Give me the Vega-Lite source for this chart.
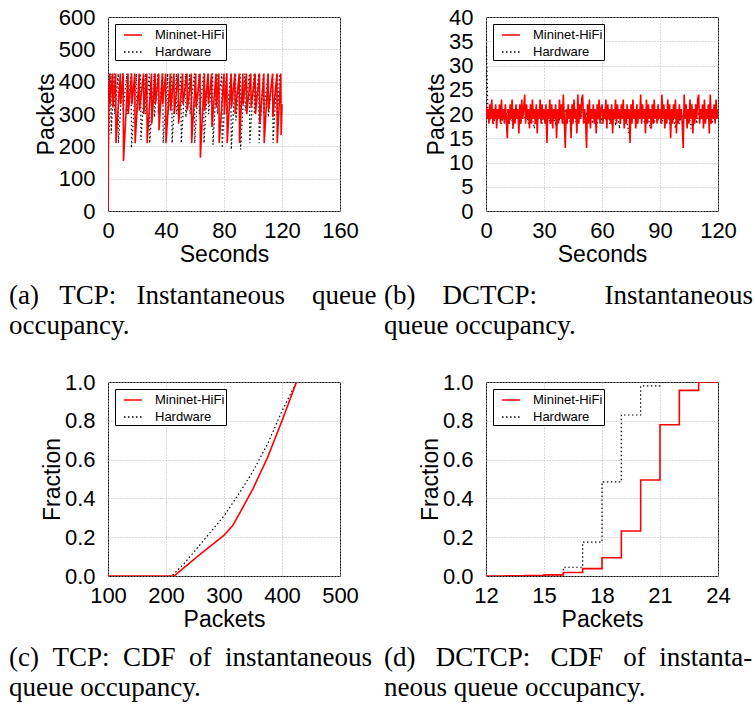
{
"$schema": "https://vega.github.io/schema/vega-lite/v6.json",
"padding": {"left": 8, "top": 5, "right": 0, "bottom": 0},
"config": {
 "font": "Liberation Sans",
 "view": {"stroke": "black", "strokeWidth": 1},
 "axis": {"labelFont": "Liberation Sans", "labelFontSize": 22, "labelColor": "black", "titleFont": "Liberation Sans", "titleFontSize": 23, "titleFontWeight": "normal", "titleColor": "black", "domain": false, "ticks": false, "grid": true, "gridColor": "#b4b4b4", "gridDash": [1, 2], "gridWidth": 1, "labelFlush": false, "labelOverlap": false, "labelBound": false},
 "axisX": {"labelPadding": 9, "titlePadding": 2},
 "axisY": {"labelPadding": 13, "titlePadding": 0},
 "legend": {"orient": "top-left", "offset": 7, "padding": 1, "strokeColor": "black", "fillColor": "white", "labelFont": "Liberation Sans", "labelFontSize": 13, "labelColor": "black", "symbolType": "stroke", "symbolSize": 324, "symbolStrokeWidth": 1.5, "symbolOffset": 7, "labelOffset": 12, "rowPadding": 0},
 "title": {"font": "Liberation Serif", "fontSize": 27, "fontWeight": "normal", "color": "black", "orient": "bottom", "anchor": "start", "frame": "group", "lineHeight": 30, "offset": 17}
},
"datasets": {
 "a_red": [{"t":0,"v":0},{"t":0.3,"v":220},{"t":0.6,"v":330},{"t":1.2,"v":425},{"t":1.4,"v":330},{"t":3.2,"v":425},{"t":3.4,"v":320},{"t":5.3,"v":425},{"t":5.5,"v":210},{"t":8.5,"v":425},{"t":8.7,"v":330},{"t":10.5,"v":425},{"t":10.7,"v":155},{"t":13.8,"v":425},{"t":14.0,"v":300},{"t":16.3,"v":425},{"t":16.5,"v":330},{"t":18.5,"v":425},{"t":18.7,"v":210},{"t":21.5,"v":425},{"t":21.7,"v":310},{"t":24.5,"v":425},{"t":24.7,"v":300},{"t":26.8,"v":425},{"t":27.0,"v":210},{"t":30.0,"v":425},{"t":30.2,"v":270},{"t":32.5,"v":425},{"t":32.7,"v":330},{"t":35.0,"v":425},{"t":35.2,"v":250},{"t":37.5,"v":425},{"t":37.7,"v":330},{"t":39.8,"v":425},{"t":40.0,"v":210},{"t":43.0,"v":425},{"t":43.2,"v":310},{"t":45.5,"v":425},{"t":45.7,"v":300},{"t":48.5,"v":425},{"t":48.7,"v":270},{"t":51.5,"v":425},{"t":51.7,"v":330},{"t":54.5,"v":425},{"t":54.7,"v":310},{"t":57.5,"v":425},{"t":57.7,"v":210},{"t":60.5,"v":425},{"t":60.7,"v":320},{"t":63.5,"v":425},{"t":63.7,"v":165},{"t":66.5,"v":425},{"t":66.7,"v":310},{"t":69.0,"v":425},{"t":69.2,"v":330},{"t":71.5,"v":425},{"t":71.7,"v":260},{"t":74.5,"v":425},{"t":74.7,"v":320},{"t":76.5,"v":425},{"t":76.7,"v":210},{"t":80.0,"v":425},{"t":80.2,"v":300},{"t":82.0,"v":425},{"t":82.2,"v":210},{"t":85.0,"v":425},{"t":85.2,"v":320},{"t":87.5,"v":425},{"t":87.7,"v":300},{"t":90.5,"v":425},{"t":90.7,"v":210},{"t":93.0,"v":425},{"t":93.2,"v":330},{"t":95.5,"v":425},{"t":95.7,"v":300},{"t":98.5,"v":425},{"t":98.7,"v":320},{"t":101.5,"v":425},{"t":101.7,"v":300},{"t":104.5,"v":425},{"t":104.7,"v":270},{"t":107.5,"v":425},{"t":107.7,"v":210},{"t":110.5,"v":425},{"t":110.7,"v":310},{"t":113.5,"v":425},{"t":113.7,"v":290},{"t":116.5,"v":425},{"t":116.7,"v":210},{"t":119.2,"v":425},{"t":119.4,"v":235},{"t":120,"v":330}],
 "a_hw": [{"t":0,"v":0},{"t":0.3,"v":200},{"t":2.0,"v":425},{"t":2.2,"v":240},{"t":4.3,"v":425},{"t":4.5,"v":300},{"t":7.0,"v":425},{"t":7.2,"v":210},{"t":10.2,"v":425},{"t":10.4,"v":310},{"t":13.0,"v":425},{"t":13.2,"v":300},{"t":16.0,"v":425},{"t":16.2,"v":195},{"t":19.6,"v":425},{"t":19.8,"v":300},{"t":22.5,"v":425},{"t":22.7,"v":220},{"t":25.8,"v":425},{"t":26.0,"v":300},{"t":28.6,"v":425},{"t":28.8,"v":210},{"t":31.8,"v":425},{"t":32.0,"v":290},{"t":34.5,"v":425},{"t":34.7,"v":300},{"t":37.8,"v":425},{"t":38.0,"v":210},{"t":41.2,"v":425},{"t":41.4,"v":300},{"t":44.0,"v":425},{"t":44.2,"v":210},{"t":47.2,"v":425},{"t":47.4,"v":300},{"t":50.3,"v":425},{"t":50.5,"v":210},{"t":53.5,"v":425},{"t":53.7,"v":290},{"t":56.4,"v":425},{"t":56.6,"v":300},{"t":59.6,"v":425},{"t":59.8,"v":210},{"t":62.8,"v":425},{"t":63.0,"v":300},{"t":66.0,"v":425},{"t":66.2,"v":210},{"t":69.2,"v":425},{"t":69.4,"v":300},{"t":72.2,"v":425},{"t":72.4,"v":205},{"t":75.2,"v":425},{"t":75.4,"v":300},{"t":78.5,"v":425},{"t":78.7,"v":195},{"t":81.7,"v":425},{"t":81.9,"v":300},{"t":84.8,"v":425},{"t":85.0,"v":190},{"t":88.0,"v":425},{"t":88.2,"v":280},{"t":91.2,"v":425},{"t":91.4,"v":190},{"t":94.4,"v":425},{"t":94.6,"v":310},{"t":97.6,"v":425},{"t":97.8,"v":210},{"t":100.8,"v":425},{"t":101.0,"v":300},{"t":104.0,"v":425},{"t":104.2,"v":210},{"t":107.2,"v":425},{"t":107.4,"v":300},{"t":110.4,"v":425},{"t":110.6,"v":290},{"t":113.6,"v":425},{"t":113.8,"v":210},{"t":116.6,"v":425},{"t":116.8,"v":300},{"t":118.5,"v":425}],
 "b_red": [{"t":0,"v":22},{"t":0.5,"v":19},{"t":1,"v":21},{"t":1.5,"v":18},{"t":2,"v":22},{"t":2.5,"v":19},{"t":3,"v":23},{"t":3.5,"v":18},{"t":4,"v":21},{"t":4.5,"v":19},{"t":5,"v":22},{"t":5.5,"v":17},{"t":6,"v":21},{"t":6.5,"v":19},{"t":7,"v":22},{"t":7.5,"v":18},{"t":8,"v":23},{"t":8.5,"v":19},{"t":9,"v":21},{"t":9.5,"v":18},
{"t":10,"v":22},{"t":10.5,"v":19},{"t":11,"v":15},{"t":11.5,"v":21},{"t":12,"v":18},{"t":12.5,"v":22},{"t":13,"v":19},{"t":13.5,"v":23},{"t":14,"v":17},{"t":14.5,"v":21},{"t":15,"v":18},{"t":15.5,"v":22},{"t":16,"v":19},{"t":16.5,"v":21},{"t":17,"v":16},{"t":17.5,"v":22},{"t":18,"v":18},{"t":18.5,"v":23},{"t":19,"v":19},{"t":19.5,"v":21},
{"t":20,"v":24},{"t":20.5,"v":18},{"t":21,"v":22},{"t":21.5,"v":19},{"t":22,"v":21},{"t":22.5,"v":17},{"t":23,"v":22},{"t":23.5,"v":18},{"t":24,"v":23},{"t":24.5,"v":19},{"t":25,"v":21},{"t":25.5,"v":18},{"t":26,"v":22},{"t":26.5,"v":16},{"t":27,"v":21},{"t":27.5,"v":19},{"t":28,"v":23},{"t":28.5,"v":18},{"t":29,"v":22},{"t":29.5,"v":19},
{"t":30,"v":21},{"t":30.5,"v":18},{"t":31,"v":22},{"t":31.5,"v":14},{"t":32,"v":21},{"t":32.5,"v":19},{"t":33,"v":23},{"t":33.5,"v":18},{"t":34,"v":22},{"t":34.5,"v":17},{"t":35,"v":21},{"t":35.5,"v":19},{"t":36,"v":22},{"t":36.5,"v":15},{"t":37,"v":21},{"t":37.5,"v":18},{"t":38,"v":23},{"t":38.5,"v":19},{"t":39,"v":22},{"t":39.5,"v":18},
{"t":40,"v":24},{"t":40.5,"v":19},{"t":41,"v":13},{"t":41.5,"v":21},{"t":42,"v":18},{"t":42.5,"v":22},{"t":43,"v":19},{"t":43.5,"v":21},{"t":44,"v":15},{"t":44.5,"v":22},{"t":45,"v":18},{"t":45.5,"v":23},{"t":46,"v":19},{"t":46.5,"v":21},{"t":47,"v":16},{"t":47.5,"v":24},{"t":48,"v":18},{"t":48.5,"v":22},{"t":49,"v":19},{"t":49.5,"v":23},
{"t":50,"v":24},{"t":50.5,"v":18},{"t":51,"v":21},{"t":51.5,"v":19},{"t":52,"v":13},{"t":52.5,"v":22},{"t":53,"v":18},{"t":53.5,"v":23},{"t":54,"v":17},{"t":54.5,"v":21},{"t":55,"v":19},{"t":55.5,"v":22},{"t":56,"v":18},{"t":56.5,"v":21},{"t":57,"v":16},{"t":57.5,"v":22},{"t":58,"v":19},{"t":58.5,"v":23},{"t":59,"v":18},{"t":59.5,"v":21},
{"t":60,"v":22},{"t":60.5,"v":18},{"t":61,"v":21},{"t":61.5,"v":19},{"t":62,"v":23},{"t":62.5,"v":17},{"t":63,"v":22},{"t":63.5,"v":19},{"t":64,"v":21},{"t":64.5,"v":18},{"t":65,"v":22},{"t":65.5,"v":16},{"t":66,"v":21},{"t":66.5,"v":19},{"t":67,"v":23},{"t":67.5,"v":18},{"t":68,"v":22},{"t":68.5,"v":19},{"t":69,"v":21},{"t":69.5,"v":18},
{"t":70,"v":22},{"t":70.5,"v":19},{"t":71,"v":23},{"t":71.5,"v":17},{"t":72,"v":21},{"t":72.5,"v":18},{"t":73,"v":22},{"t":73.5,"v":19},{"t":74,"v":21},{"t":74.5,"v":14},{"t":75,"v":22},{"t":75.5,"v":18},{"t":76,"v":23},{"t":76.5,"v":19},{"t":77,"v":21},{"t":77.5,"v":17},{"t":78,"v":22},{"t":78.5,"v":18},{"t":79,"v":21},{"t":79.5,"v":19},
{"t":80,"v":24},{"t":80.5,"v":18},{"t":81,"v":22},{"t":81.5,"v":19},{"t":82,"v":21},{"t":82.5,"v":16},{"t":83,"v":23},{"t":83.5,"v":18},{"t":84,"v":22},{"t":84.5,"v":19},{"t":85,"v":21},{"t":85.5,"v":17},{"t":86,"v":22},{"t":86.5,"v":18},{"t":87,"v":23},{"t":87.5,"v":19},{"t":88,"v":21},{"t":88.5,"v":18},{"t":89,"v":22},{"t":89.5,"v":19},
{"t":90,"v":21},{"t":90.5,"v":18},{"t":91,"v":24},{"t":91.5,"v":19},{"t":92,"v":22},{"t":92.5,"v":17},{"t":93,"v":21},{"t":93.5,"v":18},{"t":94,"v":23},{"t":94.5,"v":19},{"t":95,"v":22},{"t":95.5,"v":15},{"t":96,"v":21},{"t":96.5,"v":18},{"t":97,"v":22},{"t":97.5,"v":19},{"t":98,"v":23},{"t":98.5,"v":16},{"t":99,"v":21},{"t":99.5,"v":18},
{"t":100,"v":22},{"t":100.5,"v":19},{"t":101,"v":21},{"t":101.5,"v":18},{"t":102,"v":13},{"t":102.5,"v":24},{"t":103,"v":19},{"t":103.5,"v":22},{"t":104,"v":17},{"t":104.5,"v":21},{"t":105,"v":18},{"t":105.5,"v":23},{"t":106,"v":19},{"t":106.5,"v":22},{"t":107,"v":16},{"t":107.5,"v":21},{"t":108,"v":18},{"t":108.5,"v":22},{"t":109,"v":19},{"t":109.5,"v":23},
{"t":110,"v":24},{"t":110.5,"v":18},{"t":111,"v":21},{"t":111.5,"v":19},{"t":112,"v":22},{"t":112.5,"v":17},{"t":113,"v":23},{"t":113.5,"v":18},{"t":114,"v":21},{"t":114.5,"v":19},{"t":115,"v":22},{"t":115.5,"v":16},{"t":116,"v":24},{"t":116.5,"v":18},{"t":117,"v":21},{"t":117.5,"v":19},{"t":118,"v":22},{"t":118.5,"v":18},{"t":119,"v":23},{"t":119.5,"v":19},{"t":120,"v":21}],
 "b_hw": [{"t":0,"v":38},{"t":1,"v":20},{"t":2,"v":19},{"t":3,"v":21},{"t":4,"v":18},{"t":5,"v":20},{"t":6,"v":19},{"t":7,"v":21},{"t":8,"v":18},{"t":9,"v":20},{"t":10,"v":19},{"t":11,"v":21},{"t":12,"v":18},{"t":13,"v":20},{"t":14,"v":17},{"t":15,"v":21},{"t":16,"v":19},{"t":17,"v":20},{"t":18,"v":18},{"t":19,"v":21},{"t":20,"v":19},{"t":21,"v":20},{"t":22,"v":18},{"t":23,"v":21},{"t":24,"v":19},{"t":25,"v":17},{"t":26,"v":20},{"t":27,"v":19},{"t":28,"v":21},{"t":29,"v":18},{"t":30,"v":20},{"t":31,"v":19},{"t":32,"v":21},{"t":33,"v":18},{"t":34,"v":20},{"t":35,"v":19},{"t":36,"v":18},{"t":37,"v":21},{"t":38,"v":19},{"t":39,"v":20},{"t":40,"v":18},{"t":41,"v":21},{"t":42,"v":19},{"t":43,"v":20},{"t":44,"v":17},{"t":45,"v":21},{"t":46,"v":19},{"t":47,"v":18},{"t":48,"v":20},{"t":49,"v":19},{"t":50,"v":21},{"t":51,"v":18},{"t":52,"v":20},{"t":53,"v":19},{"t":54,"v":21},{"t":55,"v":18},{"t":56,"v":20},{"t":57,"v":17},{"t":58,"v":19},{"t":59,"v":21},{"t":60,"v":18},{"t":61,"v":20},{"t":62,"v":19},{"t":63,"v":21},{"t":64,"v":18},{"t":65,"v":20},{"t":66,"v":19},{"t":67,"v":18},{"t":68,"v":21},{"t":69,"v":17},{"t":70,"v":20},{"t":71,"v":19},{"t":72,"v":21},{"t":73,"v":18},{"t":74,"v":16},{"t":75,"v":20},{"t":76,"v":19},{"t":77,"v":21},{"t":78,"v":18},{"t":79,"v":20},{"t":80,"v":19},{"t":81,"v":21},{"t":82,"v":18},{"t":83,"v":20},{"t":84,"v":19},{"t":85,"v":17},{"t":86,"v":21},{"t":87,"v":18},{"t":88,"v":20},{"t":89,"v":19},{"t":90,"v":21},{"t":91,"v":18},{"t":92,"v":20},{"t":93,"v":19},{"t":94,"v":21},{"t":95,"v":18},{"t":96,"v":20},{"t":97,"v":19},{"t":98,"v":17},{"t":99,"v":21},{"t":100,"v":18},{"t":101,"v":20},{"t":102,"v":19},{"t":103,"v":21},{"t":104,"v":18},{"t":105,"v":20},{"t":106,"v":17},{"t":107,"v":19},{"t":108,"v":21},{"t":109,"v":18},{"t":110,"v":20},{"t":111,"v":19},{"t":112,"v":21},{"t":113,"v":18},{"t":114,"v":20},{"t":115,"v":19},{"t":116,"v":21},{"t":117,"v":18},{"t":118,"v":20},{"t":119,"v":19},{"t":120,"v":20}],
 "c_red": [{"t":100,"v":0},{"t":214,"v":0},{"t":230,"v":0.04},{"t":250,"v":0.09},{"t":275,"v":0.15},{"t":300,"v":0.21},{"t":315,"v":0.26},{"t":330,"v":0.34},{"t":350,"v":0.45},{"t":375,"v":0.61},{"t":400,"v":0.8},{"t":415,"v":0.92},{"t":425,"v":1.0}],
 "c_hw": [{"t":205,"v":0},{"t":210,"v":0},{"t":230,"v":0.06},{"t":250,"v":0.13},{"t":275,"v":0.22},{"t":300,"v":0.31},{"t":325,"v":0.42},{"t":350,"v":0.54},{"t":375,"v":0.68},{"t":400,"v":0.85},{"t":415,"v":0.94},{"t":425,"v":1.0}],
 "d_red": [{"t":12,"v":0},{"t":13,"v":0.001},{"t":14,"v":0.002},{"t":15,"v":0.006},{"t":16,"v":0.018},{"t":17,"v":0.038},{"t":18,"v":0.094},{"t":19,"v":0.232},{"t":20,"v":0.495},{"t":21,"v":0.78},{"t":22,"v":0.957},{"t":23,"v":1.0},{"t":24,"v":1.0}],
 "d_hw": [{"t":15,"v":0.005},{"t":16,"v":0.045},{"t":17,"v":0.175},{"t":18,"v":0.485},{"t":19,"v":0.83},{"t":20,"v":0.98},{"t":21,"v":1.0},{"t":24,"v":1.0}]
},
"columns": 2,
"spacing": {"row": 171, "column": 146},
"bounds": "flush",
"resolve": {"scale": {"color": "independent", "strokeDash": "independent"}, "legend": {"color": "independent", "strokeDash": "independent"}},
"concat": [
 {
  "width": 232, "height": 194,
  "title": {"text": ["(a)\u00a0\u00a0\u00a0TCP:\u00a0\u00a0\u00a0Instantaneous\u00a0\u00a0\u00a0\u00a0queue", "occupancy."], "dx": -99},
  "encoding": {
   "x": {"field": "t", "type": "quantitative", "scale": {"domain": [0, 160], "nice": false}, "axis": {"values": [0, 40, 80, 120, 160], "title": "Seconds"}},
   "y": {"field": "v", "type": "quantitative", "scale": {"domain": [0, 600], "nice": false}, "axis": {"values": [0, 100, 200, 300, 400, 500, 600], "title": "Packets"}}
  },
  "layer": [
   {"data": {"name": "a_hw"}, "mark": {"type": "line", "strokeWidth": 1.2, "clip": true},
    "encoding": {
     "color": {"datum": "Hardware", "type": "nominal", "scale": {"domain": ["Mininet-HiFi", "Hardware"], "range": ["#ff0000", "#000000"]}, "legend": {"title": null}},
     "strokeDash": {"datum": "Hardware", "type": "nominal", "scale": {"domain": ["Mininet-HiFi", "Hardware"], "range": [[1, 0], [1.5, 2.5]]}, "legend": {"title": null}}
    }},
   {"data": {"name": "a_red"}, "mark": {"type": "line", "strokeWidth": 1.6, "clip": true},
    "encoding": {
     "color": {"datum": "Mininet-HiFi", "type": "nominal", "scale": {"domain": ["Mininet-HiFi", "Hardware"], "range": ["#ff0000", "#000000"]}, "legend": {"title": null}},
     "strokeDash": {"datum": "Mininet-HiFi", "type": "nominal", "scale": {"domain": ["Mininet-HiFi", "Hardware"], "range": [[1, 0], [1.5, 2.5]]}, "legend": {"title": null}}
    }}
  ]
 },
 {
  "width": 232, "height": 194,
  "title": {"text": ["(b)\u00a0\u00a0\u00a0\u00a0DCTCP:\u00a0\u00a0\u00a0\u00a0\u00a0\u00a0\u00a0\u00a0\u00a0\u00a0Instantaneous", "queue\u00a0occupancy."], "dx": -102},
  "encoding": {
   "x": {"field": "t", "type": "quantitative", "scale": {"domain": [0, 120], "nice": false}, "axis": {"values": [0, 30, 60, 90, 120], "title": "Seconds"}},
   "y": {"field": "v", "type": "quantitative", "scale": {"domain": [0, 40], "nice": false}, "axis": {"values": [0, 5, 10, 15, 20, 25, 30, 35, 40], "title": "Packets"}}
  },
  "layer": [
   {"data": {"name": "b_hw"}, "mark": {"type": "line", "strokeWidth": 1.2, "clip": true},
    "encoding": {
     "color": {"datum": "Hardware", "type": "nominal", "scale": {"domain": ["Mininet-HiFi", "Hardware"], "range": ["#ff0000", "#000000"]}, "legend": {"title": null}},
     "strokeDash": {"datum": "Hardware", "type": "nominal", "scale": {"domain": ["Mininet-HiFi", "Hardware"], "range": [[1, 0], [1.5, 2.5]]}, "legend": {"title": null}}
    }},
   {"data": {"name": "b_red"}, "mark": {"type": "line", "strokeWidth": 1.6, "clip": true},
    "encoding": {
     "color": {"datum": "Mininet-HiFi", "type": "nominal", "scale": {"domain": ["Mininet-HiFi", "Hardware"], "range": ["#ff0000", "#000000"]}, "legend": {"title": null}},
     "strokeDash": {"datum": "Mininet-HiFi", "type": "nominal", "scale": {"domain": ["Mininet-HiFi", "Hardware"], "range": [[1, 0], [1.5, 2.5]]}, "legend": {"title": null}}
    }}
  ]
 },
 {
  "width": 232, "height": 194,
  "title": {"text": ["(c)\u00a0\u00a0TCP:\u00a0\u00a0CDF\u00a0\u00a0of\u00a0\u00a0instantaneous", "queue\u00a0occupancy."], "dx": -99, "offset": 14},
  "encoding": {
   "x": {"field": "t", "type": "quantitative", "scale": {"domain": [100, 500], "nice": false}, "axis": {"values": [100, 200, 300, 400, 500], "title": "Packets"}},
   "y": {"field": "v", "type": "quantitative", "scale": {"domain": [0, 1], "nice": false}, "axis": {"values": [0, 0.2, 0.4, 0.6, 0.8, 1.0], "format": ".1f", "title": "Fraction"}}
  },
  "layer": [
   {"data": {"name": "c_hw"}, "mark": {"type": "line", "strokeWidth": 1.2, "clip": true},
    "encoding": {
     "color": {"datum": "Hardware", "type": "nominal", "scale": {"domain": ["Mininet-HiFi", "Hardware"], "range": ["#ff0000", "#000000"]}, "legend": {"title": null}},
     "strokeDash": {"datum": "Hardware", "type": "nominal", "scale": {"domain": ["Mininet-HiFi", "Hardware"], "range": [[1, 0], [1.5, 2.5]]}, "legend": {"title": null}}
    }},
   {"data": {"name": "c_red"}, "mark": {"type": "line", "strokeWidth": 1.6, "clip": true},
    "encoding": {
     "color": {"datum": "Mininet-HiFi", "type": "nominal", "scale": {"domain": ["Mininet-HiFi", "Hardware"], "range": ["#ff0000", "#000000"]}, "legend": {"title": null}},
     "strokeDash": {"datum": "Mininet-HiFi", "type": "nominal", "scale": {"domain": ["Mininet-HiFi", "Hardware"], "range": [[1, 0], [1.5, 2.5]]}, "legend": {"title": null}}
    }}
  ]
 },
 {
  "width": 232, "height": 194,
  "title": {"text": ["(d)\u00a0\u00a0\u00a0DCTCP:\u00a0\u00a0\u00a0CDF\u00a0\u00a0\u00a0of\u00a0\u00a0instanta-", "neous\u00a0queue\u00a0occupancy."], "dx": -102, "offset": 14},
  "encoding": {
   "x": {"field": "t", "type": "quantitative", "scale": {"domain": [12, 24], "nice": false}, "axis": {"values": [12, 15, 18, 21, 24], "title": "Packets"}},
   "y": {"field": "v", "type": "quantitative", "scale": {"domain": [0, 1], "nice": false}, "axis": {"values": [0, 0.2, 0.4, 0.6, 0.8, 1.0], "format": ".1f", "title": "Fraction"}}
  },
  "layer": [
   {"data": {"name": "d_hw"}, "mark": {"type": "line", "strokeWidth": 1.2, "clip": true, "interpolate": "step-after"},
    "encoding": {
     "color": {"datum": "Hardware", "type": "nominal", "scale": {"domain": ["Mininet-HiFi", "Hardware"], "range": ["#ff0000", "#000000"]}, "legend": {"title": null}},
     "strokeDash": {"datum": "Hardware", "type": "nominal", "scale": {"domain": ["Mininet-HiFi", "Hardware"], "range": [[1, 0], [1.5, 2.5]]}, "legend": {"title": null}}
    }},
   {"data": {"name": "d_red"}, "mark": {"type": "line", "strokeWidth": 1.6, "clip": true, "interpolate": "step-after"},
    "encoding": {
     "color": {"datum": "Mininet-HiFi", "type": "nominal", "scale": {"domain": ["Mininet-HiFi", "Hardware"], "range": ["#ff0000", "#000000"]}, "legend": {"title": null}},
     "strokeDash": {"datum": "Mininet-HiFi", "type": "nominal", "scale": {"domain": ["Mininet-HiFi", "Hardware"], "range": [[1, 0], [1.5, 2.5]]}, "legend": {"title": null}}
    }}
  ]
 }
]
}
